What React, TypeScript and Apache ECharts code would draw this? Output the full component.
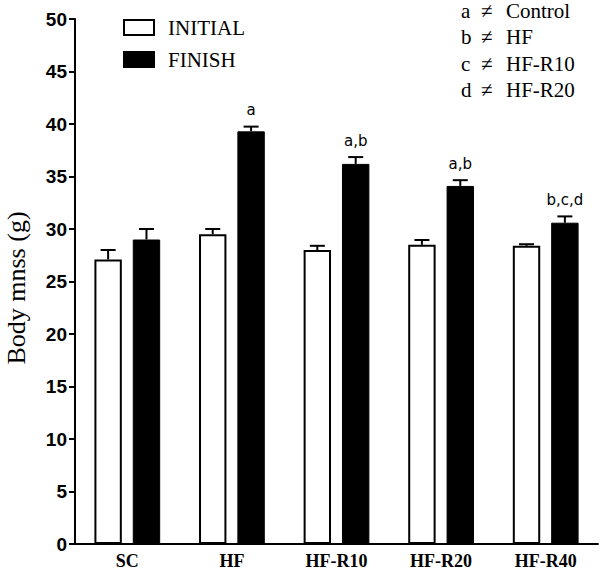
import React, { useEffect, useRef } from "react";
import * as echarts from "echarts";

const categories = ["SC", "HF", "HF-R10", "HF-R20", "HF-R40"];
const initialValues = [27.1, 29.5, 28.0, 28.5, 28.4];
const initialErrors = [0.9, 0.5, 0.4, 0.45, 0.15];
const finishValues = [29.0, 39.3, 36.2, 34.1, 30.6];
const finishErrors = [1.0, 0.45, 0.65, 0.55, 0.6];
const finishMarks = ["", "a", "a,b", "a,b", "b,c,d"];
const noteLetters = ["a", "b", "c", "d"];
const noteGroups = ["Control", "HF", "HF-R10", "HF-R20"];
const yAxisTitle = "Body mnss (g)";

const BAR_W = 0.262;
const BAR_GAP = 0.4;
const OFFSET = BAR_W / 2 + (BAR_W * BAR_GAP) / 2;

function errorSeries(values: number[], errors: number[], side: number, marks: string[] | null) {
  return {
    type: "custom",
    z: 5,
    silent: true,
    data: values.map((v, i) => [i, v, errors[i]]),
    renderItem: (params: any, api: any) => {
      const idx = api.value(0);
      const v = api.value(1);
      const e = api.value(2);
      const catW = api.size([1, 0])[0];
      const base = api.coord([idx, v]);
      const top = api.coord([idx, v + e]);
      const x = base[0] + side * OFFSET * catW;
      const cap = 7.5;
      const style = { stroke: "#000", lineWidth: 2 };
      const children: any[] = [
        { type: "line", shape: { x1: x, y1: base[1], x2: x, y2: top[1] }, style },
        { type: "line", shape: { x1: x - cap, y1: top[1], x2: x + cap, y2: top[1] }, style },
      ];
      if (marks && marks[idx]) {
        children.push({
          type: "text",
          style: {
            text: marks[idx],
            x: x,
            y: top[1] - 9,
            align: "center",
            verticalAlign: "bottom",
            fontFamily: "DejaVu Sans",
            fontSize: 15,
            fill: "#000",
          },
        });
      }
      return { type: "group", children };
    },
  };
}

export default function App() {
  const ref = useRef<HTMLDivElement>(null);
  useEffect(() => {
    if (!ref.current) return;
    const chart = echarts.init(ref.current, null, { renderer: "svg" });
    const noteStyle = { fontFamily: "Liberation Serif", fontSize: 21, fill: "#000" };
    const graphics: any[] = [];
    noteLetters.forEach((l, i) => {
      const top = 0 + i * 26.5;
      graphics.push({ type: "text", left: 461, top, style: { ...noteStyle, text: l } });
      graphics.push({ type: "text", left: 481, top, style: { ...noteStyle, text: "\u2260" } });
      graphics.push({ type: "text", left: 506, top, style: { ...noteStyle, text: noteGroups[i] } });
    });
    graphics.push({
      type: "text",
      x: 16,
      y: 288,
      rotation: Math.PI / 2,
      style: {
        text: yAxisTitle,
        fontFamily: "Liberation Serif",
        fontSize: 26,
        fill: "#000",
        align: "center",
        verticalAlign: "middle",
      },
    });
    chart.setOption({
      animation: false,
      backgroundColor: "#fff",
      grid: { left: 75, right: 2, top: 19, bottom: 28, containLabel: false },
      legend: {
        orient: "vertical",
        left: 123,
        top: 17,
        padding: 0,
        itemWidth: 30,
        itemHeight: 15,
        itemGap: 11,
        selectedMode: false,
        textStyle: {
          fontFamily: "Liberation Serif",
          fontSize: 21,
          lineHeight: 20,
          color: "#000",
          padding: [0, 0, 0, 9],
        },
        data: [
          { name: "INITIAL", icon: "rect" },
          { name: "FINISH", icon: "rect" },
        ],
      },
      xAxis: {
        type: "category",
        data: categories,
        axisLine: { lineStyle: { color: "#000", width: 2 } },
        axisTick: { alignWithLabel: true, length: 6, lineStyle: { color: "#000", width: 2 } },
        axisLabel: {
          color: "#000",
          fontFamily: "Liberation Serif",
          fontWeight: "bold",
          fontSize: 18,
          margin: 8,
        },
      },
      yAxis: {
        type: "value",
        min: 0,
        max: 50,
        interval: 5,
        splitLine: { show: false },
        axisLine: { show: true, lineStyle: { color: "#000", width: 2 } },
        axisTick: { show: true, length: 6, lineStyle: { color: "#000", width: 2 } },
        axisLabel: {
          color: "#000",
          fontFamily: "Liberation Sans",
          fontWeight: "bold",
          fontSize: 19,
          margin: 8,
        },
      },
      graphic: graphics,
      series: [
        {
          name: "INITIAL",
          type: "bar",
          data: initialValues,
          barWidth: BAR_W * 100 + "%",
          barGap: BAR_GAP * 100 + "%",
          itemStyle: { color: "#fff", borderColor: "#000", borderWidth: 2 },
        },
        {
          name: "FINISH",
          type: "bar",
          data: finishValues,
          barWidth: BAR_W * 100 + "%",
          barGap: BAR_GAP * 100 + "%",
          itemStyle: { color: "#000", borderColor: "#000", borderWidth: 1 },
        },
        errorSeries(initialValues, initialErrors, -1, null),
        errorSeries(finishValues, finishErrors, 1, finishMarks),
      ],
    });
    return () => chart.dispose();
  }, []);
  return <div ref={ref} style={{ position: "fixed", left: 0, top: 0, width: 600, height: 572 }} />;
}
